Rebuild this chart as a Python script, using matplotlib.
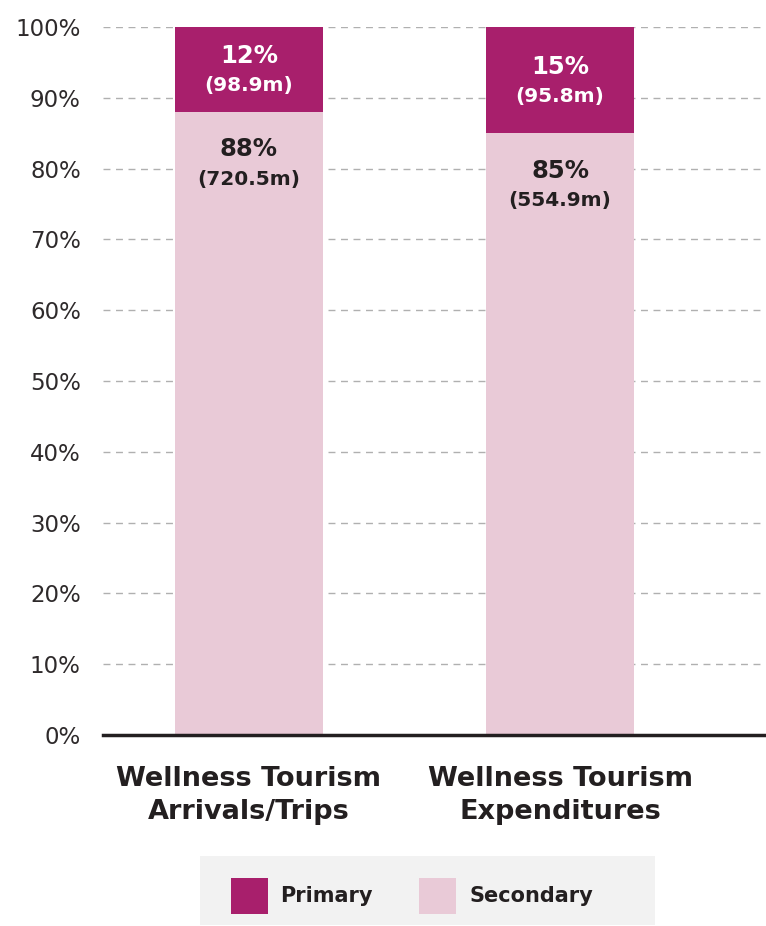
import matplotlib
matplotlib.use("Agg")
import matplotlib.pyplot as plt
from matplotlib.patches import Rectangle

categories = ["Wellness Tourism\nArrivals/Trips", "Wellness Tourism\nExpenditures"]
secondary_pct = [88, 85]
primary_pct = [12, 15]
secondary_abs = ["720.5m", "554.9m"]
primary_abs = ["98.9m", "95.8m"]
yticks = [0, 10, 20, 30, 40, 50, 60, 70, 80, 90, 100]

C_PRIM = "#A81F6C"
C_SEC = "#E9CAD7"
C_TEXT = "#231F20"

plt.rcParams['font.family'] = ['DejaVu Sans']

fig = plt.figure(figsize=(7.66, 9.26), dpi=100)
ax = fig.add_axes([103/766, 1-735/926, 1-103/766, (735-27)/926])

x = list(range(len(categories)))
w = 0.476
ax.bar(x, secondary_pct, width=w, color=C_SEC, zorder=2)
ax.bar(x, primary_pct, width=w, bottom=secondary_pct, color=C_PRIM, zorder=2)

for i in x:
    mid = secondary_pct[i] + primary_pct[i] / 2
    ax.text(i, mid + 1.9, f"{primary_pct[i]}%", ha="center", va="center",
            color="white", fontsize=17.5, fontweight="bold", zorder=3)
    ax.text(i, mid - 2.3, f"({primary_abs[i]})", ha="center", va="center",
            color="white", fontsize=14.5, fontweight="bold", zorder=3)
    ax.text(i, secondary_pct[i] - 5.3, f"{secondary_pct[i]}%", ha="center", va="center",
            color=C_TEXT, fontsize=17.5, fontweight="bold", zorder=3)
    ax.text(i, secondary_pct[i] - 9.5, f"({secondary_abs[i]})", ha="center", va="center",
            color=C_TEXT, fontsize=14.5, fontweight="bold", zorder=3)

ax.set_xlim(-0.469, 1.662)
ax.set_ylim(0, 100)
ax.set_yticks(yticks)
ax.set_yticklabels([f"{t}%" for t in yticks], fontsize=16.5, color="#2E2A2B")
ax.set_xticks(x)
ax.set_xticklabels(categories, fontsize=19.5, fontweight="bold", color=C_TEXT, linespacing=1.35)
ax.tick_params(axis="y", length=0, pad=16)
ax.tick_params(axis="x", length=0, pad=22)
ax.yaxis.grid(True, linestyle=(0, (5, 4)), color="#B0B0B0", linewidth=1, zorder=0)
ax.set_axisbelow(True)
for s in ["top", "right", "left"]:
    ax.spines[s].set_visible(False)
ax.spines["bottom"].set_color(C_TEXT)
ax.spines["bottom"].set_linewidth(2.5)
ax.spines["bottom"].set_zorder(4)

# legend box
H = 926; W = 766
fig.patches.append(Rectangle((200/W, 1-925/H), 455/W, 69/H, transform=fig.transFigure,
                             facecolor="#F2F2F2", edgecolor="none", zorder=0))
fig.patches.append(Rectangle((231/W, 1-914/H), 37/W, 36/H, transform=fig.transFigure,
                             facecolor=C_PRIM, edgecolor="none", zorder=1))
fig.patches.append(Rectangle((419/W, 1-914/H), 37/W, 36/H, transform=fig.transFigure,
                             facecolor=C_SEC, edgecolor="none", zorder=1))
fig.text(280/W, 1-896/H, "Primary", fontsize=15, fontweight="bold", color=C_TEXT, va="center")
fig.text(470/W, 1-896/H, "Secondary", fontsize=15, fontweight="bold", color=C_TEXT, va="center")

fig.savefig("out.png", dpi=100)
